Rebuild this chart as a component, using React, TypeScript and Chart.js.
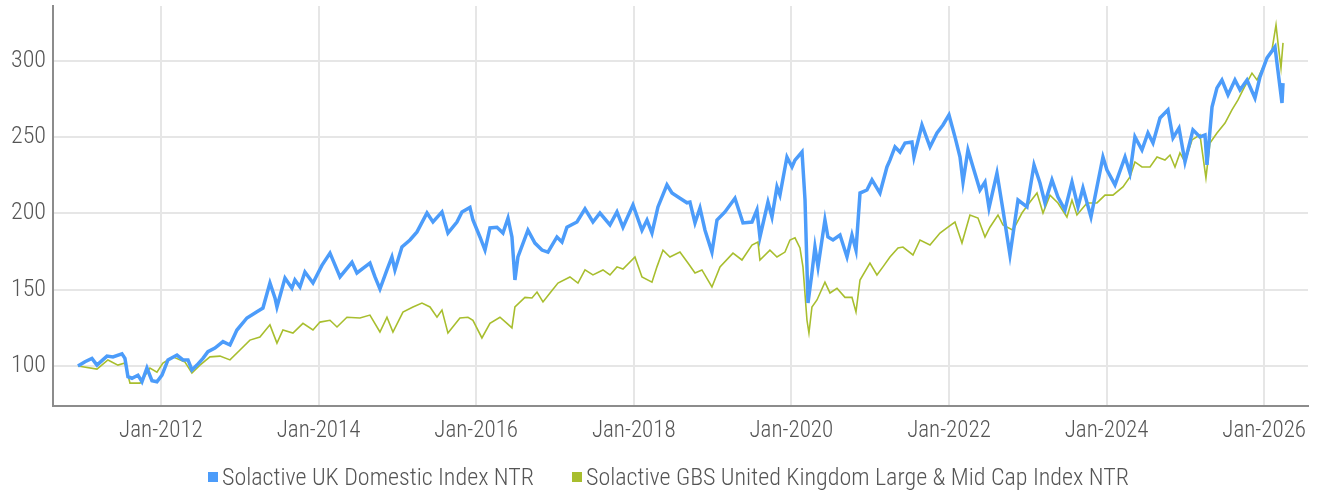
import React, { useEffect, useRef } from "react";
import { Chart, registerables } from "chart.js";

Chart.register(...registerables);

// Time axis in decimal years
const domesticTime = [
  2010.947, 2011.036, 2011.124, 2011.188, 2011.315, 2011.391, 2011.505, 2011.543, 2011.581, 2011.632,
  2011.708, 2011.759, 2011.822, 2011.886, 2011.949, 2012.013, 2012.089, 2012.203, 2012.279, 2012.343,
  2012.393, 2012.457, 2012.533, 2012.596, 2012.685, 2012.787, 2012.876, 2012.964, 2013.091, 2013.218,
  2013.294, 2013.383, 2013.447, 2013.472, 2013.574, 2013.662, 2013.700, 2013.764, 2013.827, 2013.929,
  2014.043, 2014.145, 2014.272, 2014.424, 2014.487, 2014.563, 2014.652, 2014.716, 2014.779, 2014.868,
  2014.931, 2014.969, 2015.058, 2015.160, 2015.249, 2015.376, 2015.452, 2015.566, 2015.642, 2015.756,
  2015.820, 2015.921, 2015.959, 2016.048, 2016.112, 2016.175, 2016.264, 2016.340, 2016.404, 2016.454,
  2016.492, 2016.530, 2016.657, 2016.746, 2016.835, 2016.911, 2017.025, 2017.089, 2017.152, 2017.279,
  2017.381, 2017.482, 2017.571, 2017.698, 2017.787, 2017.863, 2017.990, 2018.104, 2018.168, 2018.231,
  2018.307, 2018.421, 2018.485, 2018.586, 2018.675, 2018.713, 2018.777, 2018.840, 2018.904, 2018.992,
  2019.056, 2019.157, 2019.284, 2019.386, 2019.500, 2019.563, 2019.601, 2019.703, 2019.754, 2019.817,
  2019.855, 2019.944, 2020.008, 2020.046, 2020.135, 2020.173, 2020.211, 2020.261, 2020.299, 2020.338,
  2020.426, 2020.464, 2020.528, 2020.617, 2020.706, 2020.769, 2020.820, 2020.871, 2020.959, 2021.023,
  2021.124, 2021.213, 2021.251, 2021.315, 2021.378, 2021.442, 2021.530, 2021.556, 2021.657, 2021.759,
  2021.848, 2021.924, 2022.000, 2022.076, 2022.140, 2022.178, 2022.241, 2022.305, 2022.393, 2022.457,
  2022.508, 2022.609, 2022.685, 2022.774, 2022.876, 2022.990, 2023.079, 2023.155, 2023.218, 2023.307,
  2023.383, 2023.472, 2023.561, 2023.637, 2023.700, 2023.802, 2023.878, 2023.954, 2024.005, 2024.107,
  2024.234, 2024.297, 2024.360, 2024.449, 2024.525, 2024.589, 2024.678, 2024.779, 2024.843, 2024.919,
  2024.995, 2025.096, 2025.185, 2025.249, 2025.274, 2025.338, 2025.401, 2025.464, 2025.541, 2025.629,
  2025.693, 2025.782, 2025.883, 2025.947, 2026.036, 2026.137, 2026.162, 2026.226, 2026.239,
];
const domesticValues = [
  100, 102.8, 105, 100.6, 106.5, 106, 108, 105, 93, 92,
  94, 89.7, 98.7, 90.4, 89.7, 94, 104, 107.2, 104, 104,
  97.4, 100.6, 105, 109.4, 111.8, 116, 113.8, 123.6, 131.5, 135.6,
  138, 154.4, 144.6, 138.7, 157.7, 151, 156.4, 151.8, 161.6, 154.4,
  166, 174, 158.4, 168, 161, 164, 167.5, 158.4, 150.5, 163,
  171.5, 163, 178, 182.6, 187.9, 200.3, 194.4, 201, 187.2, 194.4,
  201, 204, 195.7, 184.6, 176, 190.5, 191, 187.2, 197, 184.6,
  156.4, 171.5, 189, 180.6, 176, 174.7, 184.6, 181.3, 191, 194.4,
  203, 194.4, 200.3, 192.5, 201, 191, 205.6, 189, 195.7, 187.2,
  204.3, 218.7, 213.4, 210, 207, 207.5, 193.8, 203.6, 189, 174.7,
  195.7, 201, 210, 193.8, 194.4, 202.3, 184.6, 207.5, 197.7, 217.4,
  212, 237, 230.5, 235, 240.3, 209, 141.3, 161, 178, 165,
  195.7, 184.6, 182.6, 185.9, 171.5, 185.9, 176, 213.4, 215.4, 222,
  213.4, 230.5, 235, 243.6, 240.3, 246.2, 246.9, 237, 258, 243.6,
  252.8, 258, 264.6, 250.2, 237, 220.6, 241.6, 230.5, 215.4, 220.6,
  203.6, 226.5, 202.3, 172.8, 208.8, 204.3, 231.8, 220, 206.9, 222,
  210.8, 202.3, 220.6, 204.3, 216.7, 197.7, 217.4, 237, 228.5, 218.7,
  237, 226.5, 250.2, 241.6, 252.8, 246.2, 262.6, 267.9, 249.5, 256,
  233.8, 254.8, 250.2, 251.5, 231.8, 269.8, 282.3, 287.5, 277.7, 287.5,
  281, 287.5, 275.7, 289.5, 302, 309.2, 298.7, 272.4, 285.5,
];

const gbsTime = [
  2010.947, 2011.188, 2011.327, 2011.454, 2011.543, 2011.607, 2011.734, 2011.860, 2011.949, 2012.025,
  2012.152, 2012.305, 2012.393, 2012.495, 2012.622, 2012.749, 2012.876, 2013.003, 2013.129, 2013.256,
  2013.383, 2013.472, 2013.548, 2013.675, 2013.802, 2013.929, 2014.018, 2014.145, 2014.234, 2014.360,
  2014.525, 2014.652, 2014.779, 2014.868, 2014.944, 2015.071, 2015.198, 2015.312, 2015.414, 2015.503,
  2015.566, 2015.642, 2015.794, 2015.896, 2015.959, 2016.073, 2016.175, 2016.302, 2016.391, 2016.454,
  2016.492, 2016.619, 2016.708, 2016.772, 2016.848, 2016.937, 2017.038, 2017.190, 2017.292, 2017.381,
  2017.482, 2017.609, 2017.698, 2017.787, 2017.863, 2018.015, 2018.104, 2018.231, 2018.294, 2018.371,
  2018.459, 2018.586, 2018.688, 2018.777, 2018.865, 2018.992, 2019.094, 2019.259, 2019.373, 2019.500,
  2019.576, 2019.601, 2019.728, 2019.817, 2019.919, 2019.982, 2020.046, 2020.109, 2020.147, 2020.198,
  2020.223, 2020.261, 2020.325, 2020.426, 2020.490, 2020.579, 2020.680, 2020.769, 2020.820, 2020.871,
  2020.997, 2021.086, 2021.162, 2021.251, 2021.353, 2021.416, 2021.543, 2021.632, 2021.759, 2021.886,
  2021.987, 2022.076, 2022.165, 2022.266, 2022.368, 2022.457, 2022.520, 2022.622, 2022.685, 2022.812,
  2022.926, 2023.028, 2023.117, 2023.193, 2023.282, 2023.383, 2023.497, 2023.561, 2023.624, 2023.751,
  2023.878, 2023.980, 2024.081, 2024.208, 2024.297, 2024.360, 2024.449, 2024.551, 2024.640, 2024.741,
  2024.805, 2024.868, 2024.931, 2024.995, 2025.084, 2025.185, 2025.261, 2025.312, 2025.401, 2025.503,
  2025.591, 2025.668, 2025.731, 2025.845, 2025.909, 2026.010, 2026.099, 2026.150, 2026.175, 2026.213,
  2026.239,
];
const gbsValues = [
  100, 98, 104, 100.6, 102, 88.8, 88.8, 98.7, 96, 102,
  106, 102.6, 95.4, 100.6, 106, 106.5, 104, 110.5, 117, 119,
  127, 115, 123.6, 121.6, 128, 123.6, 128.8, 130, 125.6, 132,
  131.5, 133.4, 122.3, 132, 122.3, 135.4, 138.7, 141.3, 138.7, 132,
  136.7, 121.6, 131.5, 132, 130, 118.4, 128, 132, 128, 125,
  138.7, 145, 144.6, 148.5, 142, 147.9, 154.4, 158.4, 154.4, 163,
  159.7, 163, 159.7, 165, 163.6, 171.5, 158.4, 155, 165, 176,
  171.5, 174.7, 167.5, 161, 163, 151.8, 165, 174, 169.5, 179.3,
  181.3, 169.5, 176, 171.5, 174.7, 182.6, 184, 177.4, 165, 130,
  121.6, 138.7, 143.3, 155, 147.9, 151, 145, 145, 135.4, 156.4,
  167.5, 159.7, 165, 171.5, 177.4, 178, 172.8, 182.6, 179.3, 187.2,
  191, 194.4, 180.6, 199, 197, 184.6, 191, 199, 192.5, 189,
  200.3, 207.5, 213.4, 200.3, 212, 206.9, 197.7, 208.8, 199, 206.9,
  206.9, 212, 212, 217.4, 224, 233.8, 230.5, 230.5, 237, 235,
  238.3, 230.5, 239.7, 233.8, 248.2, 251.5, 223.3, 246.2, 252.8, 259.3,
  267.9, 274.4, 281, 292, 287.5, 298.7, 307.2, 323.6, 311.8, 295.4,
  311.8,
];

const xTickYears = [2012, 2014, 2016, 2018, 2020, 2022, 2024, 2026];
const yTickValues = [100, 150, 200, 250, 300];

const seriesNames = [
  "Solactive UK Domestic Index NTR",
  "Solactive GBS United Kingdom Large & Mid Cap Index NTR",
];
const seriesColors = ["#4c9cfa", "#a8be2e"];

const FONT = "'Roboto Condensed', Roboto, sans-serif";
const TEXT_COLOR = "#555555";

export default function App() {
  const canvasRef = useRef<HTMLCanvasElement | null>(null);

  useEffect(() => {
    if (!canvasRef.current) return;
    const toPoints = (t: number[], v: number[]) => t.map((x, i) => ({ x, y: v[i] }));
    const chart = new Chart(canvasRef.current, {
      type: "line",
      data: {
        datasets: [
          {
            label: seriesNames[0],
            data: toPoints(domesticTime, domesticValues),
            borderColor: seriesColors[0],
            backgroundColor: seriesColors[0],
            borderWidth: 3.5,
            pointRadius: 0,
            tension: 0,
          },
          {
            label: seriesNames[1],
            data: toPoints(gbsTime, gbsValues),
            borderColor: seriesColors[1],
            backgroundColor: seriesColors[1],
            borderWidth: 1.6,
            pointRadius: 0,
            tension: 0,
          },
        ],
      },
      options: {
        animation: false,
        responsive: true,
        maintainAspectRatio: false,
        parsing: false as any,
        layout: { padding: { top: 6, right: 11, bottom: 0, left: 0 } },
        plugins: { legend: { display: false }, tooltip: { enabled: false } },
        scales: {
          x: {
            type: "linear",
            min: 2010.63,
            max: 2026.556,
            afterBuildTicks: (s: any) => {
              s.ticks = xTickYears.map((v) => ({ value: v }));
            },
            afterFit: (s: any) => {
              s.height = 85;
              s.paddingLeft = 0;
              s.paddingRight = 0;
            },
            ticks: {
              autoSkip: false,
              maxRotation: 0,
              padding: 11,
              color: TEXT_COLOR,
              font: { family: FONT, size: 23, weight: "300" },
              callback: (v: any) => "Jan-" + v,
            },
            grid: { color: "#e6e6e6", lineWidth: 2, drawTicks: false },
            border: { color: "#8c8c8c", width: 2 },
          },
          y: {
            type: "linear",
            min: 73.8,
            max: 336,
            afterBuildTicks: (s: any) => {
              s.ticks = yTickValues.map((v) => ({ value: v }));
            },
            afterFit: (s: any) => {
              s.width = 53;
              s.paddingTop = 0;
              s.paddingBottom = 0;
            },
            ticks: {
              padding: 7,
              color: TEXT_COLOR,
              font: { family: FONT, size: 24, weight: "300" },
            },
            grid: { color: "#e6e6e6", lineWidth: 2, drawTicks: false },
            border: { color: "#8c8c8c", width: 2 },
          },
        },
      },
    });
    return () => chart.destroy();
  }, []);

  const legendLeft = [208, 572];

  return (
    <div style={{ position: "absolute", left: 0, top: 0, width: 1319, height: 491, background: "#fff" }}>
      <canvas ref={canvasRef} />
      {seriesNames.map((name, i) => (
        <div
          key={name}
          style={{
            position: "absolute",
            left: legendLeft[i],
            top: 462,
            height: 30,
            display: "flex",
            alignItems: "center",
            fontFamily: FONT,
            fontWeight: 300,
            fontSize: 24,
            color: TEXT_COLOR,
            whiteSpace: "nowrap",
          }}
        >
          <span style={{ display: "inline-block", width: 10, height: 10, background: seriesColors[i], marginRight: 4 }} />
          <span>{name}</span>
        </div>
      ))}
    </div>
  );
}
